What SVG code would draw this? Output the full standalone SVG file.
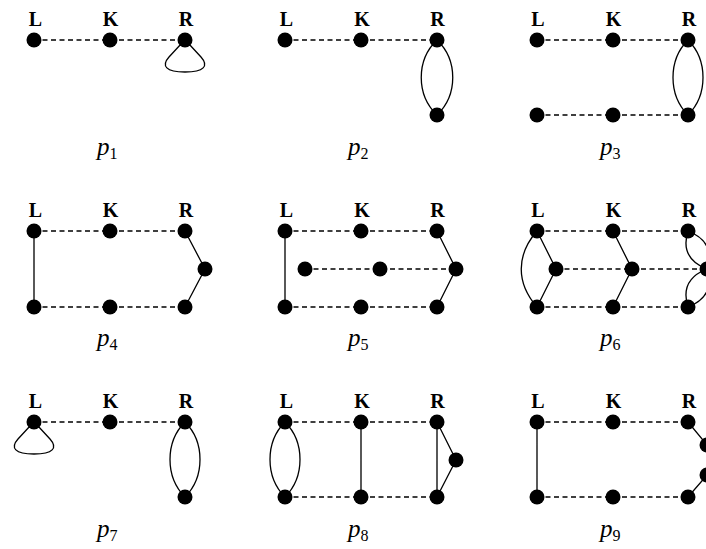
<svg xmlns="http://www.w3.org/2000/svg" width="706" height="549" viewBox="0 0 706 549">
<defs>
<style>
.n{fill:#000}
.d{stroke:#000;stroke-width:1.3;stroke-dasharray:5 3.5;fill:none}
.s{stroke:#000;stroke-width:1.3;fill:none}
.h{font-family:"Liberation Serif",serif;font-weight:bold;font-size:20px;text-anchor:middle;fill:#000}
.p{font-family:"Liberation Serif",serif;font-style:italic;font-size:25px;fill:#000}
.sub{font-family:"Liberation Serif",serif;font-style:normal;font-size:16px;fill:#000}
</style>
<path id="loop" d="M-4,4 L-16,17 C-24,26 -19,32 0,32 C19,32 24,26 16,17 L4,4"/>
</defs>
<rect width="706" height="549" fill="#fff"/>

<g id="headers">
<text class="h" x="35.5" y="26">L</text><text class="h" x="110.5" y="26">K</text><text class="h" x="186" y="26">R</text>
<text class="h" x="286.5" y="26">L</text><text class="h" x="362" y="26">K</text><text class="h" x="437.5" y="26">R</text>
<text class="h" x="538" y="26">L</text><text class="h" x="613.5" y="26">K</text><text class="h" x="689" y="26">R</text>
<text class="h" x="35.5" y="217">L</text><text class="h" x="110.5" y="217">K</text><text class="h" x="186" y="217">R</text>
<text class="h" x="286.5" y="217">L</text><text class="h" x="362" y="217">K</text><text class="h" x="437.5" y="217">R</text>
<text class="h" x="538" y="217">L</text><text class="h" x="613.5" y="217">K</text><text class="h" x="689" y="217">R</text>
<text class="h" x="35.5" y="408">L</text><text class="h" x="110.5" y="408">K</text><text class="h" x="186" y="408">R</text>
<text class="h" x="286.5" y="408">L</text><text class="h" x="362" y="408">K</text><text class="h" x="437.5" y="408">R</text>
<text class="h" x="538" y="408">L</text><text class="h" x="613.5" y="408">K</text><text class="h" x="689" y="408">R</text>
</g>

<g id="captions">
<text class="p" x="97" y="155">p<tspan class="sub" dy="4">1</tspan></text>
<text class="p" x="348" y="155">p<tspan class="sub" dy="4">2</tspan></text>
<text class="p" x="600" y="155">p<tspan class="sub" dy="4">3</tspan></text>
<text class="p" x="97" y="346">p<tspan class="sub" dy="4">4</tspan></text>
<text class="p" x="348" y="346">p<tspan class="sub" dy="4">5</tspan></text>
<text class="p" x="600" y="346">p<tspan class="sub" dy="4">6</tspan></text>
<text class="p" x="97" y="537">p<tspan class="sub" dy="4">7</tspan></text>
<text class="p" x="348" y="537">p<tspan class="sub" dy="4">8</tspan></text>
<text class="p" x="600" y="537">p<tspan class="sub" dy="4">9</tspan></text>
</g>

<g id="connectors">
<!-- p1 -->
<path class="d" d="M34,40 H185"/>
<use href="#loop" class="s" x="185" y="40"/>
<!-- p2 -->
<path class="d" d="M285,40 H437"/>
<path class="s" d="M437,40 C416,60 416,95 437,115 M437,40 C458,60 458,95 437,115"/>
<!-- p3 -->
<path class="d" d="M537,40 H688 M537,115 H688"/>
<path class="s" d="M688,40 C668,60 668,95 688,115 M688,40 C708,60 708,95 688,115"/>
<!-- p4 -->
<path class="d" d="M34,231 H185 M34,307 H185"/>
<path class="s" d="M34,231 V307 M185,231 L205,269 L185,307"/>
<!-- p5 -->
<path class="d" d="M285,231 H437 M285,307 H437 M305,269 H456"/>
<path class="s" d="M285,231 V307 M437,231 L456,269 L437,307"/>
<!-- p6 -->
<path class="d" d="M537,231 H688 M537,307 H688 M556,269 H707"/>
<path class="s" d="M537,231 L556,269 L537,307 M537,231 C516,255 516,283 537,307 M613,231 L632,269 L613,307"/>
<path class="s" d="M688,231 C682,250 689,262 707,269 M688,231 C706,238 713,250 707,269 M707,269 C689,276 682,288 688,307 M707,269 C713,288 706,300 688,307"/>
<!-- p7 -->
<path class="d" d="M34,422 H185"/>
<use href="#loop" class="s" x="34" y="422"/>
<path class="s" d="M185,422 C165,442 165,477 185,497 M185,422 C205,442 205,477 185,497"/>
<!-- p8 -->
<path class="d" d="M285,422 H437 M285,497 H437"/>
<path class="s" d="M285,422 C265,442 265,477 285,497 M285,422 C305,442 305,477 285,497 M361,422 V497 M437,422 V497 M437,422 L456,460 L437,497"/>
<!-- p9 -->
<path class="d" d="M537,422 H688 M537,497 H688"/>
<path class="s" d="M537,422 V497 M688,422 L707,445 M707,475 L688,497"/>
</g>

<g id="nodes" class="n">
<g id="p1-L"><circle cx="34" cy="40" r="7.5"/></g>
<g id="p1-K"><circle cx="110" cy="40" r="7.5"/></g>
<g id="p1-R"><circle cx="185" cy="40" r="7.5"/></g>

<g id="p2-L"><circle cx="285" cy="40" r="7.5"/></g>
<g id="p2-K"><circle cx="361" cy="40" r="7.5"/></g>
<g id="p2-R"><circle cx="437" cy="40" r="7.5"/></g>
<g id="p2-R2"><circle cx="437" cy="115" r="7.5"/></g>

<g id="p3-L"><circle cx="537" cy="40" r="7.5"/></g>
<g id="p3-K"><circle cx="613" cy="40" r="7.5"/></g>
<g id="p3-R"><circle cx="688" cy="40" r="7.5"/></g>
<g id="p3-L2"><circle cx="537" cy="115" r="7.5"/></g>
<g id="p3-K2"><circle cx="613" cy="115" r="7.5"/></g>
<g id="p3-R2"><circle cx="688" cy="115" r="7.5"/></g>

<g id="p4-L"><circle cx="34" cy="231" r="7.5"/></g>
<g id="p4-K"><circle cx="110" cy="231" r="7.5"/></g>
<g id="p4-R"><circle cx="185" cy="231" r="7.5"/></g>
<g id="p4-Rm"><circle cx="205" cy="269" r="7.5"/></g>
<g id="p4-L2"><circle cx="34" cy="307" r="7.5"/></g>
<g id="p4-K2"><circle cx="110" cy="307" r="7.5"/></g>
<g id="p4-R2"><circle cx="185" cy="307" r="7.5"/></g>

<g id="p5-L"><circle cx="285" cy="231" r="7.5"/></g>
<g id="p5-K"><circle cx="361" cy="231" r="7.5"/></g>
<g id="p5-R"><circle cx="437" cy="231" r="7.5"/></g>
<g id="p5-Lm"><circle cx="305" cy="269" r="7.5"/></g>
<g id="p5-Km"><circle cx="380" cy="269" r="7.5"/></g>
<g id="p5-Rm"><circle cx="456" cy="269" r="7.5"/></g>
<g id="p5-L2"><circle cx="285" cy="307" r="7.5"/></g>
<g id="p5-K2"><circle cx="361" cy="307" r="7.5"/></g>
<g id="p5-R2"><circle cx="437" cy="307" r="7.5"/></g>

<g id="p6-L"><circle cx="537" cy="231" r="7.5"/></g>
<g id="p6-K"><circle cx="613" cy="231" r="7.5"/></g>
<g id="p6-R"><circle cx="688" cy="231" r="7.5"/></g>
<g id="p6-Lm"><circle cx="556" cy="269" r="7.5"/></g>
<g id="p6-Km"><circle cx="632" cy="269" r="7.5"/></g>
<g id="p6-Rm"><circle cx="707" cy="269" r="7.5"/></g>
<g id="p6-L2"><circle cx="537" cy="307" r="7.5"/></g>
<g id="p6-K2"><circle cx="613" cy="307" r="7.5"/></g>
<g id="p6-R2"><circle cx="688" cy="307" r="7.5"/></g>

<g id="p7-L"><circle cx="34" cy="422" r="7.5"/></g>
<g id="p7-K"><circle cx="110" cy="422" r="7.5"/></g>
<g id="p7-R"><circle cx="185" cy="422" r="7.5"/></g>
<g id="p7-R2"><circle cx="185" cy="497" r="7.5"/></g>

<g id="p8-L"><circle cx="285" cy="422" r="7.5"/></g>
<g id="p8-K"><circle cx="361" cy="422" r="7.5"/></g>
<g id="p8-R"><circle cx="437" cy="422" r="7.5"/></g>
<g id="p8-Rm"><circle cx="456" cy="460" r="7.5"/></g>
<g id="p8-L2"><circle cx="285" cy="497" r="7.5"/></g>
<g id="p8-K2"><circle cx="361" cy="497" r="7.5"/></g>
<g id="p8-R2"><circle cx="437" cy="497" r="7.5"/></g>

<g id="p9-L"><circle cx="537" cy="422" r="7.5"/></g>
<g id="p9-K"><circle cx="613" cy="422" r="7.5"/></g>
<g id="p9-R"><circle cx="688" cy="422" r="7.5"/></g>
<g id="p9-Ra"><circle cx="707" cy="445" r="7.5"/></g>
<g id="p9-Rb"><circle cx="707" cy="475" r="7.5"/></g>
<g id="p9-L2"><circle cx="537" cy="497" r="7.5"/></g>
<g id="p9-K2"><circle cx="613" cy="497" r="7.5"/></g>
<g id="p9-R2"><circle cx="688" cy="497" r="7.5"/></g>
</g>
</svg>
